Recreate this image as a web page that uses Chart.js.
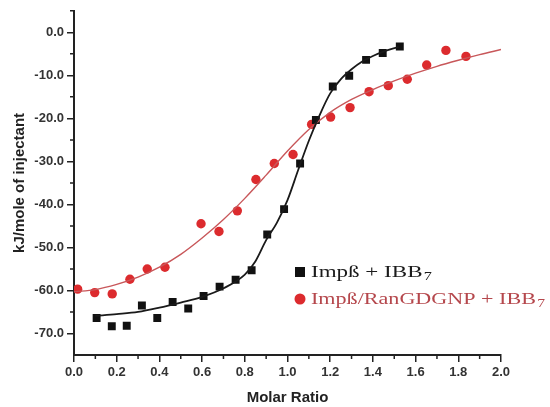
<!DOCTYPE html>
<html>
<head>
<meta charset="utf-8">
<script src="https://cdn.jsdelivr.net/npm/chart.js@4"></script>
<style>
  body { margin: 0; background: #fff; }
  canvas { display: block; }
</style>
</head>
<body>
<canvas id="myChart" width="550" height="407"></canvas>
<script>
// measured points, black squares (Impß + IBB7)
const molarBlack = [0.106, 0.177, 0.247, 0.318, 0.390, 0.462, 0.535, 0.607, 0.682, 0.757, 0.832, 0.905, 0.984, 1.059, 1.133, 1.212, 1.289, 1.368, 1.446, 1.526];
const heatBlack  = [-66.4, -68.3, -68.2, -63.5, -66.4, -62.7, -64.2, -61.3, -59.1, -57.5, -55.3, -47.0, -41.1, -30.5, -20.4, -12.6, -10.1, -6.4, -4.8, -3.3];
// measured points, red circles (Impß/RanGDGNP + IBB7)
const molarRed = [0.017, 0.097, 0.179, 0.262, 0.343, 0.426, 0.595, 0.679, 0.765, 0.852, 0.938, 1.026, 1.113, 1.202, 1.293, 1.382, 1.472, 1.561, 1.652, 1.742, 1.836];
const heatRed  = [-59.7, -60.5, -60.8, -57.4, -55.0, -54.6, -44.5, -46.3, -41.5, -34.2, -30.5, -28.4, -21.4, -19.7, -17.5, -13.8, -12.4, -10.9, -7.6, -4.2, -5.6];
// fitted curves
const fitBlackX = [0.1, 0.2, 0.3, 0.4, 0.5, 0.6, 0.7, 0.8, 0.85, 0.9, 0.95, 1.0, 1.05, 1.1, 1.15, 1.2, 1.25, 1.3, 1.35, 1.4, 1.45, 1.52];
const fitBlackY = [-65.9, -65.5, -65.0, -64.0, -62.8, -61.5, -59.5, -56.3, -53.2, -48.3, -44.3, -39.0, -32.0, -25.2, -19.3, -14.2, -10.9, -8.6, -6.8, -5.5, -4.5, -3.4];
const fitRedX = [0.0, 0.1, 0.2, 0.3, 0.4, 0.5, 0.6, 0.7, 0.8, 0.9, 1.0, 1.1, 1.2, 1.3, 1.4, 1.5, 1.6, 1.7, 1.8, 1.9, 2.0];
const fitRedY = [-60.3, -59.8, -58.6, -56.9, -54.6, -51.6, -47.8, -43.5, -38.6, -33.2, -27.6, -22.6, -18.6, -15.6, -13.3, -11.3, -9.5, -7.9, -6.5, -5.2, -4.0];
// axis ticks
const xTicks = [0.0, 0.2, 0.4, 0.6, 0.8, 1.0, 1.2, 1.4, 1.6, 1.8, 2.0];
const xMinor = [0.1, 0.3, 0.5, 0.7, 0.9, 1.1, 1.3, 1.5, 1.7, 1.9];
const yTicks = [0, -10, -20, -30, -40, -50, -60, -70];
const yMinor = [5, -5, -15, -25, -35, -45, -55, -65];

const legendItems = [
  { text: "Impß + IBB", sub: "7", color: "#1b1b1b", marker: "rect", markerColor: "#111" },
  { text: "Impß/RanGDGNP + IBB", sub: "7", color: "#b5474c", marker: "circle", markerColor: "#dc2b2e" }
];

const zip = (xs, ys) => xs.map((x, i) => ({ x: x, y: ys[i] }));
const axisColor = "#222";
const tickFont = { family: "'Liberation Sans', Arial, sans-serif", size: 13, weight: "bold" };

const minorTicks = {
  id: "minorTicks",
  afterDraw(chart) {
    const c = chart.ctx, xs = chart.scales.x, ys = chart.scales.y;
    c.save();
    c.strokeStyle = axisColor;
    c.lineWidth = 1.5;
    c.beginPath();
    xMinor.forEach(v => {
      const px = xs.getPixelForValue(v);
      c.moveTo(px, xs.top);
      c.lineTo(px, xs.top + 4);
    });
    yMinor.forEach(v => {
      const py = ys.getPixelForValue(v);
      c.moveTo(ys.right, py);
      c.lineTo(ys.right - 4, py);
    });
    c.stroke();
    c.restore();
  }
};

const serifLegend = {
  id: "serifLegend",
  afterDraw(chart) {
    const c = chart.ctx;
    const x0 = 300, textX = 311;
    const rows = [{ y: 277, w: 121 }, { y: 304, w: 234 }];
    c.save();
    legendItems.forEach((item, i) => {
      const r = rows[i];
      c.fillStyle = item.markerColor;
      if (item.marker === "rect") {
        c.fillRect(x0 - 5, r.y - 10, 10, 10);
      } else {
        c.beginPath();
        c.arc(x0, r.y - 5, 5.5, 0, Math.PI * 2);
        c.fill();
      }
      const mainFont = "17px 'Liberation Serif', 'Times New Roman', serif";
      const subFont = "12px 'Liberation Serif', 'Times New Roman', serif";
      c.font = mainFont;
      const w1 = c.measureText(item.text).width;
      c.font = subFont;
      const w2 = c.measureText(item.sub).width;
      const s = r.w / (w1 + w2 + 1);
      c.save();
      c.translate(textX, r.y);
      c.scale(s, 1);
      c.fillStyle = item.color;
      c.textBaseline = "alphabetic";
      c.font = mainFont;
      c.fillText(item.text, 0, 0);
      c.font = subFont;
      c.fillText(item.sub, w1 + 1, 3);
      c.restore();
    });
    c.restore();
  }
};

const ctx = document.getElementById("myChart");
const myChart = new Chart(ctx, {
  type: "scatter",
  data: {
    datasets: [
      {
        label: "fit black",
        data: zip(fitBlackX, fitBlackY),
        showLine: true,
        borderColor: "#1a1a1a",
        borderWidth: 1.8,
        pointRadius: 0,
        cubicInterpolationMode: "monotone"
      },
      {
        label: "fit red",
        data: zip(fitRedX, fitRedY),
        showLine: true,
        borderColor: "#c8575a",
        borderWidth: 1.4,
        pointRadius: 0,
        cubicInterpolationMode: "monotone"
      },
      {
        label: "Impß + IBB7",
        data: zip(molarBlack, heatBlack),
        pointStyle: "rect",
        pointRadius: 5.6,
        backgroundColor: "#111",
        borderColor: "#111",
        borderWidth: 0
      },
      {
        label: "Impß/RanGDGNP + IBB7",
        data: zip(molarRed, heatRed),
        pointStyle: "circle",
        pointRadius: 4.7,
        backgroundColor: "#dc2b2e",
        borderColor: "#dc2b2e",
        borderWidth: 0
      }
    ]
  },
  options: {
    responsive: false,
    animation: false,
    layout: { padding: { top: 7, right: 49, left: 0, bottom: 0 } },
    plugins: { legend: { display: false }, tooltip: { enabled: false } },
    scales: {
      x: {
        type: "linear",
        min: 0,
        max: 2,
        afterBuildTicks: s => { s.ticks = xTicks.map(v => ({ value: v })); },
        afterFit: s => { s.height = 52; },
        border: { color: axisColor, width: 2 },
        grid: { drawOnChartArea: false, drawTicks: true, tickLength: 7, color: axisColor, lineWidth: 1.5 },
        ticks: {
          color: "#333",
          font: tickFont,
          padding: 3,
          maxRotation: 0,
          callback: v => Number(v).toFixed(1)
        },
        title: {
          display: true,
          text: "Molar Ratio",
          color: "#222",
          font: { family: "'Liberation Sans', Arial, sans-serif", size: 15, weight: "bold" },
          padding: { top: 2, bottom: 0 }
        }
      },
      y: {
        type: "linear",
        min: -75,
        max: 5,
        afterBuildTicks: s => { s.ticks = yTicks.map(v => ({ value: v })); },
        afterFit: s => { s.width = 74; },
        border: { color: axisColor, width: 2 },
        grid: { drawOnChartArea: false, drawTicks: true, tickLength: 7, color: axisColor, lineWidth: 1.5 },
        ticks: {
          color: "#333",
          font: tickFont,
          padding: 3,
          callback: v => Number(v).toFixed(1)
        },
        title: {
          display: true,
          text: "kJ/mole of injectant",
          color: "#222",
          font: { family: "'Liberation Sans', Arial, sans-serif", size: 15, weight: "bold" },
          padding: { top: 11, bottom: 0 }
        }
      }
    }
  },
  plugins: [minorTicks, serifLegend]
});
</script>
</body>
</html>
